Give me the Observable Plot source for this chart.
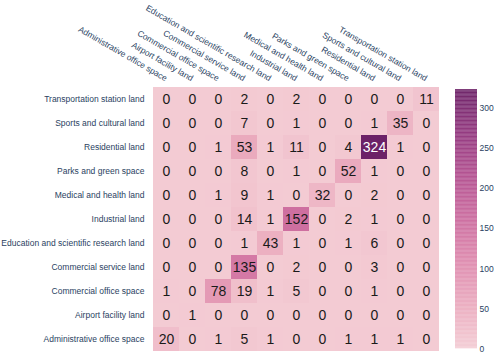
<!DOCTYPE html>
<html>
<head>
<meta charset="utf-8">
<script src="https://cdn.jsdelivr.net/npm/d3@7"></script>
<script src="https://cdn.jsdelivr.net/npm/@observablehq/plot@0.6"></script>
<style>
  body { margin: 0; background: white; }
  #wrap { display: flex; flex-direction: row; width: 499px; height: 356px; overflow: hidden; }
  svg { overflow: visible; }
</style>
</head>
<body>
<div id="wrap"></div>
<script>
// Predicted classes (columns, left to right)
const predicted = [
  "Administrative office space",
  "Airport facility land",
  "Commercial office space",
  "Commercial service land",
  "Education and scientific research land",
  "Industrial land",
  "Medical and health land",
  "Parks and green space",
  "Residential land",
  "Sports and cultural land",
  "Transportation station land"
];
// Actual classes (rows, top to bottom)
const actual = [
  "Transportation station land",
  "Sports and cultural land",
  "Residential land",
  "Parks and green space",
  "Medical and health land",
  "Industrial land",
  "Education and scientific research land",
  "Commercial service land",
  "Commercial office space",
  "Airport facility land",
  "Administrative office space"
];
// Counts, one row per actual class (same order as `actual`), columns as `predicted`
const counts = [
  [0, 0, 0, 2, 0, 2, 0, 0, 0, 0, 11],
  [0, 0, 0, 7, 0, 1, 0, 0, 1, 35, 0],
  [0, 0, 1, 53, 1, 11, 0, 4, 324, 1, 0],
  [0, 0, 0, 8, 0, 1, 0, 52, 1, 0, 0],
  [0, 0, 1, 9, 1, 0, 32, 0, 2, 0, 0],
  [0, 0, 0, 14, 1, 152, 0, 2, 1, 0, 0],
  [0, 0, 0, 1, 43, 1, 0, 1, 6, 0, 0],
  [0, 0, 0, 135, 0, 2, 0, 0, 3, 0, 0],
  [1, 0, 78, 19, 1, 5, 0, 0, 1, 0, 0],
  [0, 1, 0, 0, 0, 0, 0, 0, 0, 0, 0],
  [20, 0, 1, 5, 1, 0, 0, 1, 1, 1, 0]
];
const colorbarTicks = [0, 50, 100, 150, 200, 250, 300];
const magenta = ["#f3cbd3", "#eaa9bd", "#dd88ac", "#ca699d", "#b14d8e", "#91357d", "#6c2167"];

const table = [];
actual.forEach((a, i) => predicted.forEach((p, j) => table.push({actual: a, predicted: p, value: counts[i][j]})));

const vmax = d3.max(table, d => d.value);
const colorScale = {
  type: "linear",
  domain: magenta.map((_, k) => k * vmax / (magenta.length - 1)),
  range: magenta
};

const font = "'Liberation Sans', Arial, sans-serif";
const axisColor = "#2a3f5f";

const main = Plot.plot({
  width: 450,
  height: 356,
  marginLeft: 149,
  marginRight: 8,
  marginTop: 81.5,
  marginBottom: 0,
  style: {fontFamily: font, background: "white", overflow: "visible"},
  x: {domain: predicted, padding: 0, axis: null},
  y: {domain: actual, padding: 0, axis: null},
  color: colorScale,
  marks: [
    Plot.cell(table, {x: "predicted", y: "actual", fill: "value", inset: 0}),
    Plot.text(table, {
      x: "predicted", y: "actual", text: d => String(d.value),
      fill: d => d.value > 250 ? "white" : "#1a1a1a",
      fontSize: 14, fontFamily: font
    }),
    Plot.axisY({tickSize: 0, tickPadding: 5, fontSize: 8.5, fill: axisColor, label: null}),
    Plot.axisX({anchor: "top", tickSize: 0, tickPadding: 3, tickRotate: 30, textAnchor: "end", fontSize: 8.5, fill: axisColor, label: null})
  ]
});

const steps = d3.range(0, vmax, 1);
const bar = Plot.plot({
  width: 49,
  height: 356,
  marginLeft: 5,
  marginRight: 22,
  marginTop: 89,
  marginBottom: 7.7,
  style: {fontFamily: font, background: "white", overflow: "visible"},
  x: {domain: [0, 1], axis: null},
  y: {domain: [0, vmax], axis: null},
  color: colorScale,
  marks: [
    Plot.rect(steps, {x1: 0, x2: 1, y1: d => d, y2: d => Math.min(d + 1.2, vmax), fill: d => d + 0.5}),
    Plot.axisY(colorbarTicks, {anchor: "right", tickSize: 0, tickPadding: 2, fontSize: 8.5, fill: axisColor, label: null, textAnchor: "start"})
  ]
});

const wrap = document.getElementById("wrap");
wrap.appendChild(main);
wrap.appendChild(bar);
</script>
</body>
</html>
